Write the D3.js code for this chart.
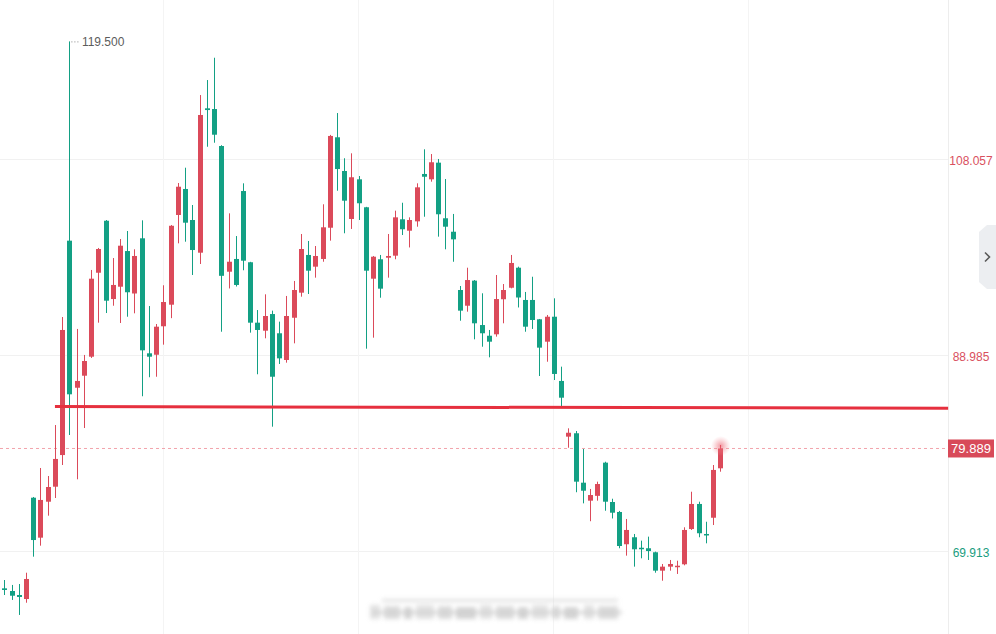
<!DOCTYPE html>
<html>
<head>
<meta charset="utf-8">
<script src="https://cdn.jsdelivr.net/npm/d3@7/dist/d3.min.js"></script>
<style>
  html, body { margin: 0; padding: 0; background: #fff; }
  svg { display: block; font-family: "Liberation Sans", Arial, sans-serif; }
</style>
</head>
<body>
<svg id="chart" width="996" height="634"></svg>
<script>
// ---------------- data ----------------
const categories = d3.range(1, 101);
const opens = [66.28,66.02,65.63,65.24,75.10,71.21,74.71,76.17,79.25,100.11,
  85.80,86.97,88.82,96.99,102.05,94.43,95.63,99.10,94.97,100.34,
  89.15,89.01,91.78,93.88,102.61,105.14,102.12,98.94,112.99,112.92,
  109.32,97.09,98.33,104.94,98.01,92.13,91.35,92.97,91.10,88.50,
  92.61,95.05,98.72,97.58,98.33,101.37,110.17,106.89,102.22,106.08,
  103.36,96.41,98.30,98.45,98.65,102.19,101.08,101.99,106.60,106.08,
  107.70,102.29,100.98,95.31,93.78,96.22,91.90,90.86,91.00,94.41,
  95.53,97.48,94.34,94.34,92.46,90.28,92.71,86.46,81.04,81.37,
  76.56,74.81,75.28,78.51,74.68,73.71,70.57,71.25,70.23,70.18,
  69.79,68.00,68.39,68.39,68.62,72.05,74.49,71.57,73.15,77.96];
const highs = [67.09,66.61,66.70,67.80,75.17,77.99,77.21,82.17,92.68,119.50,
  91.52,88.99,97.26,99.40,102.12,98.42,100.27,101.05,99.27,102.09,
  93.75,92.00,95.77,101.63,105.72,107.21,103.58,114.28,115.74,117.91,
  109.40,102.77,100.56,105.69,98.05,93.36,94.89,93.30,92.23,94.73,
  96.19,100.76,100.08,99.59,103.65,110.40,112.53,108.13,108.61,106.40,
  103.40,98.62,98.72,100.76,103.03,103.80,102.38,105.69,109.00,108.54,
  108.06,106.11,102.71,95.70,97.48,96.28,94.99,91.42,96.77,95.89,
  98.72,97.58,95.12,96.60,92.49,92.88,94.50,87.85,81.85,81.59,
  79.84,75.95,76.66,78.60,75.00,73.81,73.03,71.57,70.92,71.31,
  69.85,68.65,69.04,68.97,72.22,75.68,74.71,72.76,78.28,80.23];
const lows = [65.63,65.15,63.69,64.88,69.36,70.43,73.35,75.07,78.28,81.20,
  76.89,81.88,88.70,92.13,93.07,93.78,92.10,92.71,93.04,84.97,
  86.82,86.87,89.99,92.57,99.85,100.01,96.77,97.84,109.25,109.64,
  91.25,95.46,95.65,97.23,91.16,87.11,90.61,82.01,88.11,88.24,
  90.12,94.66,94.92,96.51,98.06,100.11,104.97,100.83,101.25,102.12,
  89.60,90.67,94.56,96.51,98.30,100.66,99.45,101.47,102.44,105.85,
  100.50,99.27,98.06,92.32,93.20,90.51,89.79,88.76,90.77,92.07,
  95.47,93.61,91.25,91.52,86.94,88.33,86.55,83.95,79.96,75.63,
  74.55,72.81,74.81,73.83,73.08,70.18,69.46,68.39,69.20,69.04,
  67.80,67.02,68.00,67.68,68.52,71.96,71.25,70.66,72.44,77.63];
const closes = [66.12,65.56,65.44,67.19,70.98,74.88,76.14,78.87,91.42,85.16,
  86.46,88.40,96.41,99.30,94.27,95.80,99.62,95.09,98.62,89.44,
  88.82,91.74,94.14,101.56,105.36,101.86,99.20,112.34,112.82,110.42,
  96.69,98.06,95.80,98.16,92.13,91.42,92.78,86.87,88.66,92.78,
  95.31,99.30,97.19,98.62,101.41,110.30,107.08,104.00,106.28,103.75,
  97.19,98.55,95.44,98.62,102.38,101.22,102.12,105.30,106.33,107.74,
  102.68,101.47,100.24,93.30,96.28,92.07,91.10,90.28,94.43,95.31,
  97.94,94.58,91.74,92.39,89.70,92.71,87.14,84.83,81.42,76.66,
  75.78,75.36,76.43,74.71,73.64,70.40,71.96,70.08,70.14,69.91,
  68.00,68.39,68.65,68.48,71.96,74.49,71.64,71.44,77.80,79.889];

const yTicks = [69.913, 88.985, 108.057];
const yTickLabels = ["69.913", "88.985", "108.057"];
const lastPrice = 79.889;
const lastPriceLabel = "79.889";
const maxPrice = 119.500;
const maxPriceLabel = "119.500";
const maxIndex = 10;
const gridIdx = [22.95, 49.9, 76.85, 103.8];
const trendIdx = [8, 131.5];
const trendPrice = [83.97, 83.81];

// ---------------- styles ----------------
const UP = "#db4a5a", DOWN = "#13a084";
const W = 996, H = 634, plotRight = 948;

const svg = d3.select("#chart");
svg.append("rect").attr("width", W).attr("height", H).attr("fill", "#fff");

const x = d3.scaleLinear().domain([1, 100]).range([4.3, 720.3]);
const y = d3.scaleLinear().domain([69.913, 108.057]).range([551, 159]);

const defs = svg.append("defs");
const rg = defs.append("radialGradient").attr("id", "glow");
rg.append("stop").attr("offset", "0%").attr("stop-color", "#e8505f").attr("stop-opacity", 0.6);
rg.append("stop").attr("offset", "55%").attr("stop-color", "#ef7f8a").attr("stop-opacity", 0.3);
rg.append("stop").attr("offset", "100%").attr("stop-color", "#f5a0a8").attr("stop-opacity", 0);
const blur = defs.append("filter").attr("id", "blur").attr("x", "-20%").attr("y", "-80%").attr("width", "140%").attr("height", "260%");
blur.append("feGaussianBlur").attr("stdDeviation", 2.2);

// grid
const grid = svg.append("g");
grid.selectAll("line.h").data(yTicks).join("line")
  .attr("x1", 0).attr("x2", plotRight)
  .attr("y1", d => Math.round(y(d)) + 0.5).attr("y2", d => Math.round(y(d)) + 0.5)
  .attr("stroke", "#f1f1f1").attr("stroke-width", 1);
grid.selectAll("line.v").data(gridIdx).join("line")
  .attr("x1", d => Math.round(x(d)) + 0.5).attr("x2", d => Math.round(x(d)) + 0.5)
  .attr("y1", 0).attr("y2", H)
  .attr("stroke", "#f4f4f4").attr("stroke-width", 1);
svg.append("line").attr("x1", plotRight + 0.5).attr("x2", plotRight + 0.5)
  .attr("y1", 0).attr("y2", H).attr("stroke", "#ededed");

// blurred watermark at bottom
const wm = svg.append("g").attr("filter", "url(#blur)").attr("fill", "#cfcfcf");
wm.append("rect").attr("x", 382).attr("y", 599).attr("width", 236).attr("height", 3).attr("opacity", 0.6);
const wmBlocks = [[370,10],[384,16],[404,8],[416,18],[438,14],[456,20],[480,12],[496,18],[518,10],[532,16],[552,8],[564,14],[584,10],[598,20]];
wmBlocks.forEach(([bx, bw], k) => {
  wm.append("rect").attr("x", bx).attr("y", 605 + (k % 3)).attr("width", bw).attr("height", 14 - (k % 3))
    .attr("opacity", 0.6 + 0.15 * (k % 3));
});
wm.append("rect").attr("x", 372).attr("y", 611).attr("width", 250).attr("height", 3).attr("opacity", 0.8);

// current price dashed line
svg.append("line")
  .attr("x1", 0).attr("x2", plotRight)
  .attr("y1", y(lastPrice)).attr("y2", y(lastPrice))
  .attr("stroke", "#f2a3ab").attr("stroke-width", 1).attr("stroke-dasharray", "3,3");

// candles
const n = categories.length;
const candles = svg.append("g").selectAll("g").data(categories).join("g");
candles.append("line")
  .attr("x1", (d, i) => Math.round(x(d)) + 0.5)
  .attr("x2", (d, i) => Math.round(x(d)) + 0.5)
  .attr("y1", (d, i) => y(highs[i]))
  .attr("y2", (d, i) => y(lows[i]))
  .attr("stroke", (d, i) => closes[i] >= opens[i] ? UP : DOWN)
  .attr("stroke-width", 1);
candles.append("rect")
  .attr("x", (d, i) => Math.round(x(d)) - 2)
  .attr("width", 5)
  .attr("y", (d, i) => y(Math.max(opens[i], closes[i])))
  .attr("height", (d, i) => Math.max(1.5, Math.abs(y(opens[i]) - y(closes[i]))))
  .attr("fill", (d, i) => closes[i] >= opens[i] ? UP : DOWN);

// glow on last candle
svg.append("circle")
  .attr("cx", x(categories[n - 1]) + 0.5).attr("cy", y(highs[n - 1]) + 1)
  .attr("r", 10).attr("fill", "url(#glow)");

// trend line
svg.append("line")
  .attr("x1", x(trendIdx[0])).attr("x2", x(trendIdx[1]))
  .attr("y1", y(trendPrice[0])).attr("y2", y(trendPrice[1]))
  .attr("stroke", "#e6303e").attr("stroke-width", 3);

// max label
const mx = x(maxIndex), my = y(maxPrice);
svg.append("line")
  .attr("x1", mx + 2).attr("x2", mx + 11).attr("y1", my + 0.5).attr("y2", my + 0.5)
  .attr("stroke", "#888").attr("stroke-width", 1).attr("stroke-dasharray", "1,2");
svg.append("text")
  .attr("x", mx + 12.5).attr("y", my + 4.5)
  .attr("font-size", 12).attr("fill", "#5c5c5c")
  .text(maxPriceLabel);

// right axis
const axis = d3.axisRight(y).tickValues(yTicks)
  .tickFormat((d, i) => yTickLabels[i]).tickSize(0).tickPadding(0);
const ax = svg.append("g").attr("transform", `translate(${plotRight},0)`).call(axis);
ax.select(".domain").remove();
ax.selectAll("text")
  .attr("x", 23).attr("text-anchor", "middle")
  .attr("dy", "0.45em")
  .attr("font-size", 12)
  .attr("font-family", "'Liberation Sans', Arial, sans-serif")
  .attr("fill", d => d > lastPrice ? "#d9505e" : "#1a9d80");

// current price tag
const ly = y(lastPrice);
svg.append("rect")
  .attr("x", plotRight).attr("y", ly - 9).attr("width", 46).attr("height", 18)
  .attr("fill", "#d84a59");
svg.append("text")
  .attr("x", plotRight + 23).attr("y", ly + 4.8)
  .attr("text-anchor", "middle").attr("font-size", 13).attr("fill", "#fff")
  .text(lastPriceLabel);

// side collapse tab
svg.append("path")
  .attr("d", "M987,225 L996,225 L996,289 L987,289 L979,282 L979,232 Z")
  .attr("fill", "#eceef1");
svg.append("path")
  .attr("d", "M985,252.5 L989.5,257 L985,261.5")
  .attr("fill", "none").attr("stroke", "#5a5a5a").attr("stroke-width", 1.6);
</script>
</body>
</html>
